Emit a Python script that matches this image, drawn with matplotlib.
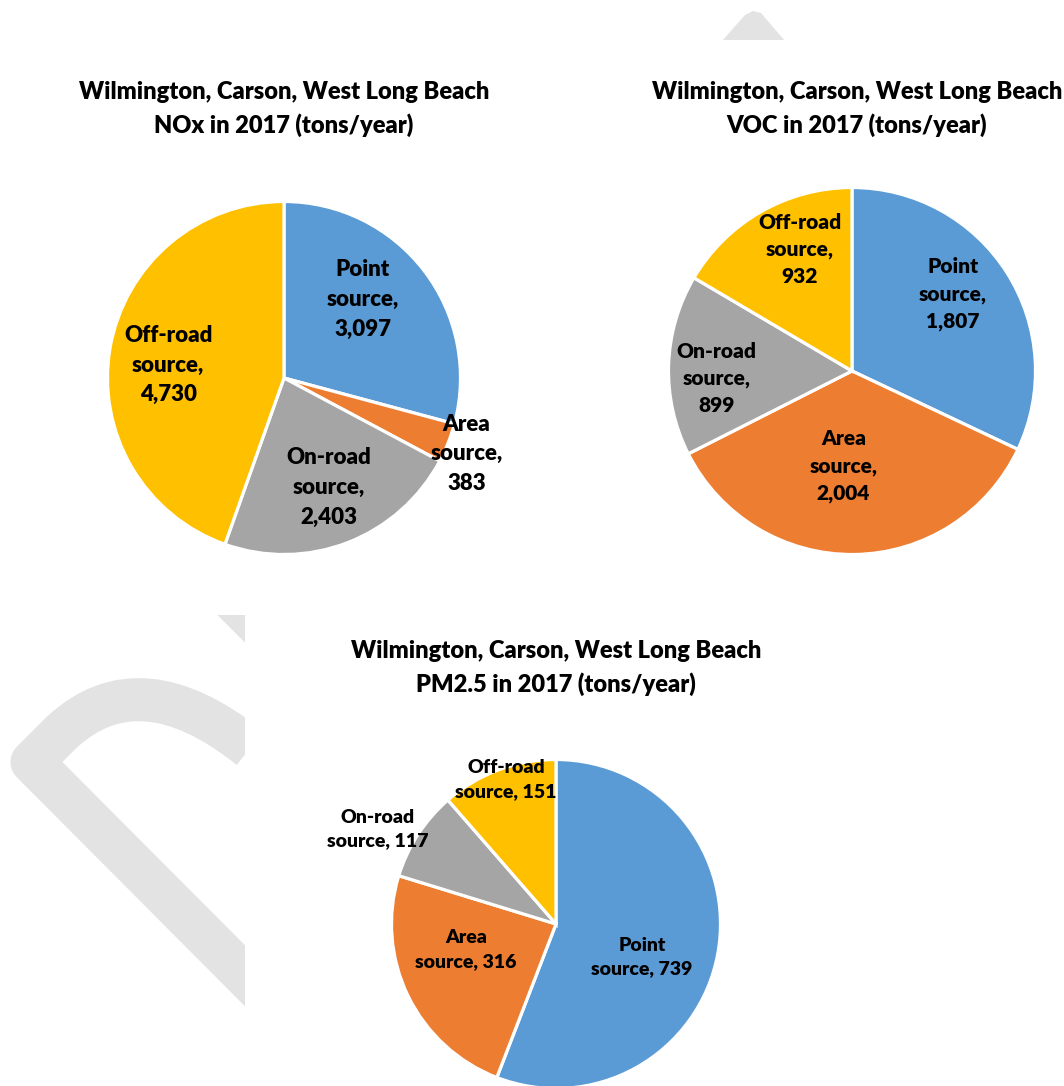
import numpy as np
import matplotlib.pyplot as plt
from matplotlib.patches import Rectangle, Polygon, PathPatch
from matplotlib.path import Path

plt.rcParams['font.family'] = ['Lato', 'DejaVu Sans']

# data (tons/year, 2017)
sources = ['Point', 'Area', 'On-road', 'Off-road']
nox = [3097, 383, 2403, 4730]
voc = [1807, 2004, 899, 932]
pm25 = [739, 316, 117, 151]
titles = ['Wilmington, Carson, West Long Beach\nNOx in 2017 (tons/year)',
          'Wilmington, Carson, West Long Beach\nVOC in 2017 (tons/year)',
          'Wilmington, Carson, West Long Beach\nPM2.5 in 2017 (tons/year)']

colors = ['#5B9BD5', '#ED7D31', '#A5A5A5', '#FFC000']
WEIGHT = 'heavy'

W, H = 1064, 1086
fig = plt.figure(figsize=(W / 100, H / 100), dpi=100)

# background with the faint draft watermark
bg = fig.add_axes([0, 0, 1, 1], zorder=0)
bg.set_xlim(0, W)
bg.set_ylim(H, 0)
bg.axis('off')
wm = '#E3E3E3'
arc = Path([(250, 748), (140, 660), (62, 732), (32, 762), (300, 1031)],
           [Path.MOVETO, Path.CURVE3, Path.CURVE3, Path.LINETO, Path.LINETO])
bg.add_patch(PathPatch(arc, facecolor='none', edgecolor=wm, lw=31,
                       joinstyle='round', capstyle='butt', zorder=1))
bg.plot([150, 300], [526, 676], color=wm, lw=22, solid_capstyle='butt', zorder=1)
bg.add_patch(Polygon([(722, 41), (745, 15), (753, 11), (761, 13), (785, 41)],
                     closed=True, color=wm, lw=0, zorder=1))
bg.add_patch(Rectangle((0, 40), W, 575, color='white', lw=0, zorder=5))
bg.add_patch(Rectangle((245, 615), W - 245, H - 615, color='white', lw=0, zorder=5))


def pie_axes(cx, cy, r):
    ax = fig.add_axes([(cx - r) / W, (H - cy - r) / H, 2 * r / W, 2 * r / H], zorder=2)
    ax.set_xlim(-1, 1)
    ax.set_ylim(-1, 1)
    ax.axis('off')
    return ax


def draw_pie(ax, values, dist, nudge, fs, sep, ls):
    wedges, _ = ax.pie(values, colors=colors, startangle=90, counterclock=False,
                       radius=1, wedgeprops=dict(edgecolor='white', linewidth=2.3))
    for w, name, v, d, n in zip(wedges, sources, values, dist, nudge):
        mid = np.deg2rad((w.theta1 + w.theta2) / 2 + n)
        ax.text(d * np.cos(mid), d * np.sin(mid), f'{name}\nsource,{sep}{v:,}',
                ha='center', va='center', fontsize=fs, fontweight=WEIGHT,
                linespacing=ls, color='black')
    ax.set_xlim(-1, 1)
    ax.set_ylim(-1, 1)


ax1 = pie_axes(284, 378, 176.5)
draw_pie(ax1, nox, [0.63, 1.12, 0.67, 0.66], [7.5, -1, 1, 3.5], 16, '\n', 1.5)

ax2 = pie_axes(852, 371, 183.5)
draw_pie(ax2, voc, [0.69, 0.52, 0.74, 0.72], [5, -6, 5, -6.5], 15, '\n', 1.5)

ax3 = pie_axes(556, 924, 164.5)
draw_pie(ax3, pm25, [0.56, 0.57, 1.23, 0.93], [-10.5, -10, 5, -1.5], 14, ' ', 1.5)

tfs = 17
for (x, y), t in zip([(284, 109), (857, 109), (556, 668)], titles):
    fig.text(x / W, 1 - y / H, t, ha='center', va='center', fontsize=tfs,
             fontweight=WEIGHT, linespacing=1.55)

fig.savefig('out.png', dpi=100)
